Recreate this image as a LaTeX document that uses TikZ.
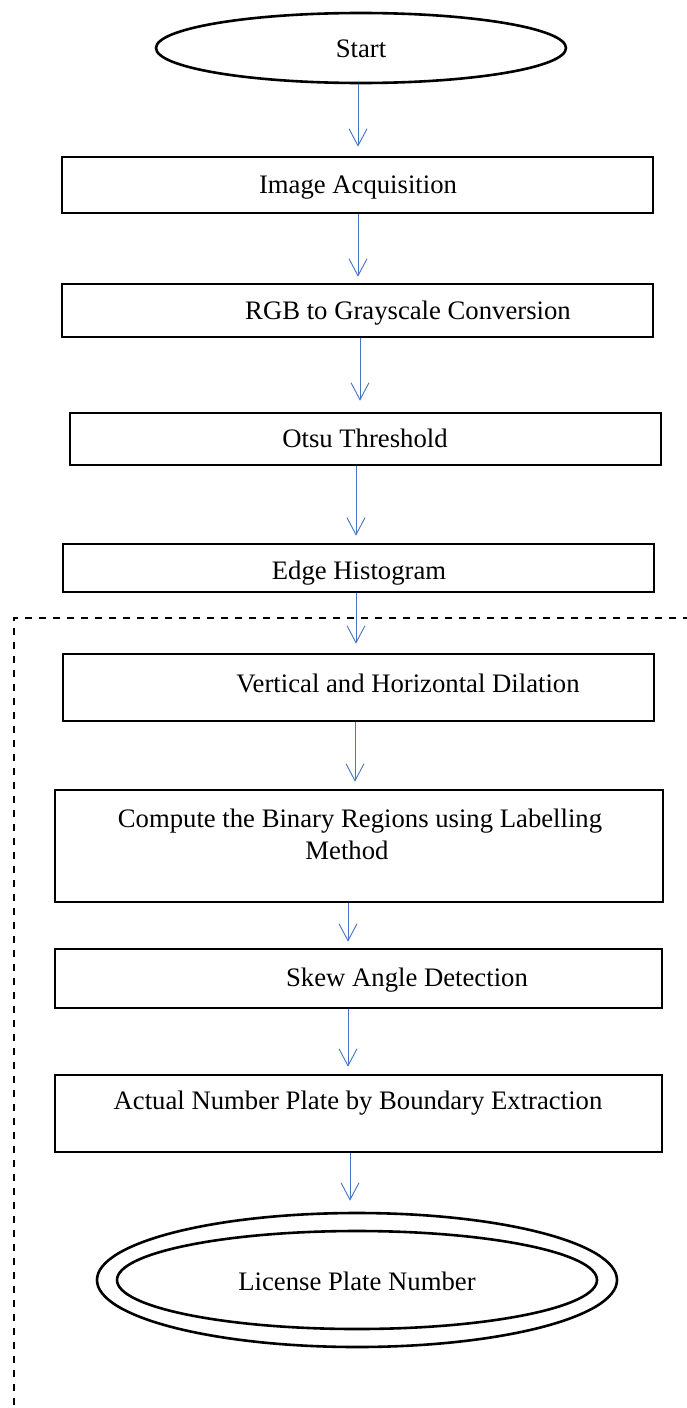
\documentclass[tikz,border=0pt]{standalone}
\usepackage{fontspec}
\setmainfont{Liberation Serif}
\usetikzlibrary{arrows.meta,shapes.geometric,calc}
\definecolor{arrblue}{HTML}{4472C4}
\tikzset{
  box/.style={draw, line width=2.6pt, rectangle, inner sep=0pt},
  lbl/.style={anchor=base, inner sep=0pt, font=\fontsize{26.7}{32}\selectfont},
  arr/.style={draw=arrblue, line width=0.9pt, -{Straight Barb[length=17pt,width=18pt]}},
  term/.style={draw, ellipse, line width=2.6pt, inner sep=0pt},
  region/.style={line width=2pt, dash pattern=on 7pt off 7pt}
}
\begin{document}
\begin{tikzpicture}[x=1pt,y=-1pt]
\useasboundingbox (0,0) rectangle (686,1408);

% shapes
\node[term, minimum width=410pt, minimum height=70pt] (start) at (361,48) {};
\node[box, minimum width=591pt, minimum height=56pt] (acq) at (357.5,185) {};
\node[box, minimum width=591pt, minimum height=53pt] (rgb) at (357.5,310.5) {};
\node[box, minimum width=591pt, minimum height=52pt] (otsu) at (365.5,439) {};
\node[box, minimum width=591pt, minimum height=48pt] (edge) at (358.5,568) {};
\node[box, minimum width=591pt, minimum height=67pt] (vert) at (358.5,687.5) {};
\node[box, minimum width=608pt, minimum height=112pt] (comp) at (359,846) {};
\node[box, minimum width=607pt, minimum height=59pt] (skew) at (358.5,978.5) {};
\node[box, minimum width=607pt, minimum height=77pt] (actual) at (358.5,1113.5) {};
\node[term, minimum width=520pt, minimum height=134pt] (outer) at (357,1280) {};
\node[term, minimum width=480pt, minimum height=98pt] (inner) at (357,1280) {};

% texts
\node[lbl] (tstart) at (361,57) {Start};
\node[lbl] (tacq) at (358,193) {Image Acquisition};
\node[lbl] (trgb) at (408,319) {RGB to Grayscale Conversion};
\begin{scope}
  \clip (otsu.north west) rectangle ($(otsu.south east)+(0,21)$);
  \node[lbl] (totsu) at (365,447) {Otsu Threshold};
\end{scope}
\begin{scope}
  \clip (edge.north west) rectangle ($(edge.south east)+(0,11)$);
  \node[lbl] (tedge) at (359,579) {Edge Histogram};
\end{scope}
\node[lbl] (tvert) at (408,692) {Vertical and Horizontal Dilation};
\node[lbl] (tcompa) at (360,827) {Compute the Binary Regions using Labelling};
\node[lbl] (tcompb) at (347,859) {Method};
\node[lbl] (tskew) at (407,986) {Skew Angle Detection};
\node[lbl] (tact) at (358,1109) {Actual Number Plate by Boundary Extraction};
\node[lbl] (tlic) at (357,1290) {License Plate Number};

% dashed region
\coordinate (dtr) at (690,618);
\coordinate (dtl) at (14,618);
\coordinate (dbl) at (14,1412);
\draw[region] (dtr) -- (dtl) -- (dbl);

% arrows
\draw[arr] ([xshift=-3pt]start.south) -- ([xshift=0.5pt,yshift=9pt]acq.north);
\draw[arr] ([xshift=0.5pt]acq.south) -- ([xshift=0.5pt,yshift=6pt]rgb.north);
\draw[arr] ([xshift=2.5pt]rgb.south) -- ([xshift=-5.5pt,yshift=11pt]otsu.north);
\draw[arr] ([xshift=-9.5pt]otsu.south) -- ([xshift=-2.5pt,yshift=7pt]edge.north);
\draw[arr] ([xshift=-2.5pt]edge.south) -- ([xshift=-2.5pt,yshift=9pt]vert.north);
\draw[arr] ([xshift=-3.5pt]vert.south) -- ([xshift=-4pt,yshift=7pt]comp.north);
\draw[arr] ([xshift=-11pt]comp.south) -- ([xshift=-10.5pt,yshift=6pt]skew.north);
\draw[arr] ([xshift=-10.5pt]skew.south) -- ([xshift=-10.5pt,yshift=7pt]actual.north);
\draw[arr] ([xshift=-8.5pt]actual.south) -- ([xshift=-7pt,yshift=11pt]outer.north);
\end{tikzpicture}
\end{document}
